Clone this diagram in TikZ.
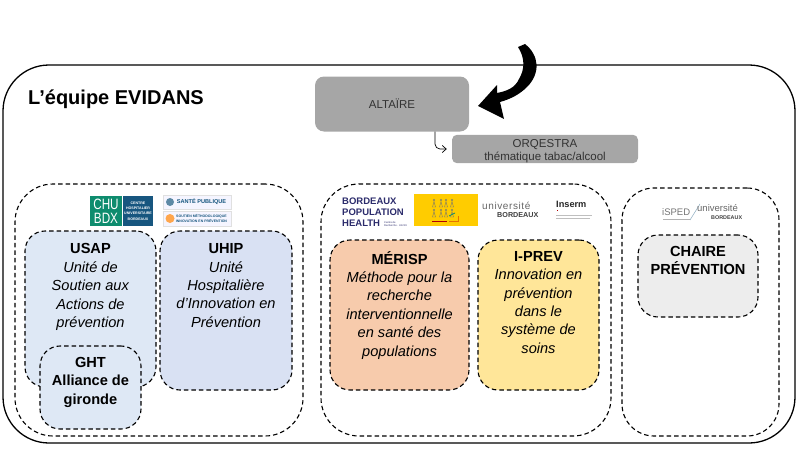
\documentclass[tikz,border=0pt]{standalone}
\usepackage{fontspec}
\usetikzlibrary{arrows.meta}
\setmainfont{Liberation Sans}
\definecolor{altgray}{HTML}{A6A6A6}
\definecolor{usapblue}{HTML}{DEE8F5}
\definecolor{uhipblue}{HTML}{D9E1F3}
\definecolor{merispred}{HTML}{F7CBAC}
\definecolor{iprevyel}{HTML}{FFE699}
\definecolor{chairegray}{HTML}{EDEDED}
\definecolor{chugreen}{HTML}{0E8C6E}
\definecolor{chublue}{HTML}{17567F}
\definecolor{bphnavy}{HTML}{2B2B6B}
\definecolor{bphyellow}{HTML}{FFCC00}
\tikzset{
  groupbox/.style={draw=black,dashed,dash pattern=on 4.5pt off 3pt,line width=1.1pt,rounded corners=38pt,inner sep=0pt},
  unitbox/.style={draw=black,dashed,dash pattern=on 4.5pt off 3pt,line width=1.1pt,rounded corners=20pt,inner sep=0pt},
  unittext/.style={anchor=north,align=center,font=\fontsize{14.6}{18.4}\selectfont,inner sep=0pt},
  graybox/.style={fill=altgray,inner sep=0pt,align=center,text=black!80,font=\fontsize{11.5}{13}\selectfont},
  logotext/.style={inner sep=0pt,align=center}
}
\begin{document}
\begin{tikzpicture}[x=1pt,y=-1pt]
\useasboundingbox (0,0) rectangle (800,450);
\node (equipe) [draw=black,line width=1.3pt,rounded corners=46pt,minimum width=792pt,minimum height=378pt,inner sep=0pt] at (399,254) {};
\node (title) [anchor=west,inner sep=0pt,font=\fontsize{20}{22}\selectfont\bfseries] at (28,99) {L’équipe EVIDANS};
\node (altaire) [graybox,rounded corners=9pt,minimum width=154pt,minimum height=55pt] at (392,104) {ALTAÏRE};
\node (orqestra) [graybox,rounded corners=5pt,minimum width=186pt,minimum height=28pt] at (545,149) {\rule{0pt}{13pt}ORQESTRA\\thématique tabac/alcool};
\draw [-{Straight Barb[length=4pt,width=7pt]},line width=0.7pt,rounded corners=5pt,shorten >=5pt] ([xshift=43pt]altaire.south) |- (orqestra.west);
\fill [black] (518,47) -- (525,44) .. controls (539,55) and (541,73) .. (527,87) .. controls (520,94) and (511,99) .. (500,102) -- (504,119) -- (478,106) -- (497,85) -- (497,93) .. controls (507,91) and (515,88) .. (519,79) .. controls (525,69) and (525,58) .. (518,47) -- cycle;
% groupes
\node (gchu) [groupbox,minimum width=288pt,minimum height=252pt] at (159,310) {};
\node (gbph) [groupbox,minimum width=290pt,minimum height=252pt] at (466,310) {};
\node (gisped) [groupbox,rounded corners=32pt,minimum width=157pt,minimum height=248pt] at (700.5,312) {};
% unites
\node (usap) [unitbox,fill=usapblue,minimum width=131pt,minimum height=156pt] at (90.5,309) {};
\node (usaptext) [unittext] at (90.5,243.5) {\textbf{USAP}\\\textit{Unité de}\\\textit{Soutien aux}\\\textit{Actions de}\\\textit{prévention}};
\node (uhip) [unitbox,fill=uhipblue,minimum width=132pt,minimum height=159pt] at (226,310.5) {};
\node (uhiptext) [unittext] at (226,243.5) {\textbf{UHIP}\\\textit{Unité}\\\textit{Hospitalière}\\\textit{d’Innovation en}\\\textit{Prévention}};
\node (ght) [unitbox,fill=usapblue,minimum width=101pt,minimum height=83pt] at (90.5,387.5) {};
\node (ghttext) [unittext,font=\fontsize{14.6}{18.4}\selectfont\bfseries] at (90.5,357) {GHT\\Alliance de\\gironde};
\node (merisp) [unitbox,fill=merispred,minimum width=139pt,minimum height=150pt] at (399.5,315) {};
\node (merisptext) [unittext] at (399.5,251) {\textbf{MÉRISP}\\\textit{Méthode pour la}\\\textit{recherche}\\\textit{interventionnelle}\\\textit{en santé des}\\\textit{populations}};
\node (iprev) [unitbox,fill=iprevyel,minimum width=121pt,minimum height=150pt] at (538.5,315) {};
\node (iprevtext) [unittext] at (538.5,251) {\textbf{I-PREV}\\\textit{Innovation en}\\\textit{prévention}\\\textit{dans le}\\\textit{système de}\\\textit{soins}};
\node (chaire) [unitbox,fill=chairegray,minimum width=120pt,minimum height=82pt] at (698,276) {};
\node (chairetext) [unittext,font=\fontsize{14.6}{18.4}\selectfont\bfseries] at (698,246) {CHAIRE\\PRÉVENTION};
% logos
\node (chugr) [fill=chugreen,text=white,logotext,minimum width=32pt,minimum height=30pt,font=\fontsize{15}{14}\selectfont] at (106,211) {\scalebox{0.78}[1]{CHU}\\\scalebox{0.78}[1]{BDX}};
\node (chubl) [fill=chublue,text=white,logotext,minimum width=30pt,minimum height=30pt,font=\fontsize{3.6}{5.2}\selectfont\bfseries] at (138,211) {CENTRE\\HOSPITALIER\\UNIVERSITAIRE\\BORDEAUX};
\node (santea) [draw=black!12,fill=blue!4,logotext,minimum width=68pt,minimum height=14pt,text=chublue,font=\fontsize{5.6}{6}\selectfont\bfseries] at (197,202) {\hspace{9pt}SANTÉ PUBLIQUE};
\node (santeb) [draw=black!12,fill=blue!4,logotext,minimum width=68pt,minimum height=15pt,text=chublue,font=\fontsize{3.5}{5}\selectfont\bfseries] at (197,218.5) {\hspace{9pt}SOUTIEN MÉTHODOLOGIQUE\\\hspace{9pt}INNOVATION EN PRÉVENTION};
\fill [chublue!70] (170,202) circle (4pt);
\fill [orange!70] (170,218.5) circle (4.5pt);
\node (bph) [anchor=north west,logotext,align=left,text=bphnavy,font=\fontsize{9.5}{11}\selectfont\bfseries] at (342,198) {BORDEAUX\\POPULATION\\HEALTH};
\node (bphsub) [anchor=west,logotext,align=left,text=bphnavy,font=\fontsize{2.6}{3}\selectfont] at (384,224) {Centre de\\Recherche · U1219};
\node (yellow) [fill=bphyellow,minimum width=64pt,minimum height=32pt,inner sep=0pt] at (446,210) {};
\foreach \x in {434,441,446,452} \foreach \y in {204,214} {
  \draw [black!55,line width=0.4pt] (\x,\y-4) circle (0.9pt) (\x-1.5,\y+3) -- (\x,\y-2.5) -- (\x+1.5,\y+3) -- cycle;
}
\draw [red!70!black,line width=0.7pt] (432,221) -- (447,221);
\draw [chugreen,line width=0.8pt] (449,216) -- (455,213);
\draw [orange!90!black,line width=0.8pt] (449,221) -- (458,221) -- (458,216);
\node (ubx) [logotext,text=black!60,font=\fontsize{10}{11}\selectfont,anchor=west] at (482,206) {\addfontfeature{LetterSpace=6}université};
\node (ubxb) [logotext,text=black!75,font=\fontsize{7.2}{8}\selectfont\bfseries,anchor=west] at (497,215.5) {BORDEAUX};
\node (inserm) [logotext,text=black!85,font=\fontsize{9.2}{10}\selectfont\bfseries,anchor=west] at (556,204) {Inserm};
\draw [black!25,line width=0.7pt] (556,215) -- (592,215) (556,218) -- (590,218);
\fill [red!70!black] (556.5,209.5) rectangle (558,211);
\node (isped) [logotext,text=black!55,font=\fontsize{9.5}{10}\selectfont,anchor=west] at (662,212) {iSPED};
\draw [black!30,line width=0.7pt] (663,219) -- (690,219);
\draw [chublue!50,line width=0.5pt] (690,220) -- (700,204);
\node (iubx) [logotext,text=black!60,font=\fontsize{9.5}{10}\selectfont,anchor=west] at (697,208) {université};
\node (iubxb) [logotext,text=black!75,font=\fontsize{5.4}{6}\selectfont\bfseries,anchor=west] at (711,218) {BORDEAUX};
\end{tikzpicture}
\end{document}
